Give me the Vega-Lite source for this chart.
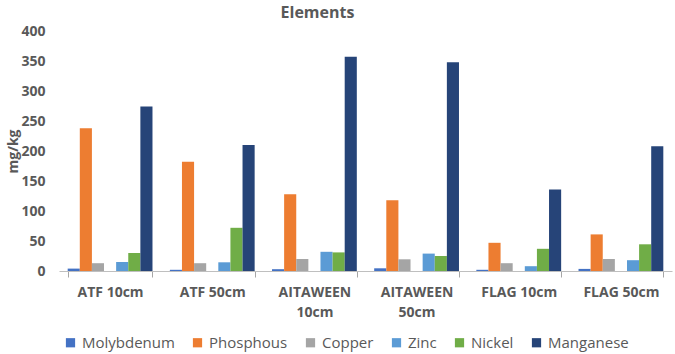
{
  "$schema": "https://vega.github.io/schema/vega-lite/v6.json",
  "width": 613,
  "height": 240,
  "autosize": "none",
  "padding": {"left": 59, "top": 31, "right": 3, "bottom": 83},
  "background": "white",
  "config": {"view": {"stroke": null}, "font": "Open Sans"},
  "title": {"text": "Elements", "fontSize": 16, "fontWeight": "bold", "color": "#595959", "font": "Open Sans", "dx": -48, "offset": 3},
  "datasets": {
    "values": [
    {"group": "ATF 10cm", "element": "Molybdenum", "value": 4},
    {"group": "ATF 10cm", "element": "Phosphous", "value": 238},
    {"group": "ATF 10cm", "element": "Copper", "value": 13},
    {"group": "ATF 10cm", "element": "Zinc", "value": 15},
    {"group": "ATF 10cm", "element": "Nickel", "value": 30},
    {"group": "ATF 10cm", "element": "Manganese", "value": 274},
    {"group": "ATF 50cm", "element": "Molybdenum", "value": 2},
    {"group": "ATF 50cm", "element": "Phosphous", "value": 182},
    {"group": "ATF 50cm", "element": "Copper", "value": 13},
    {"group": "ATF 50cm", "element": "Zinc", "value": 14.5},
    {"group": "ATF 50cm", "element": "Nickel", "value": 72},
    {"group": "ATF 50cm", "element": "Manganese", "value": 210},
    {"group": "AITAWEEN 10cm", "element": "Molybdenum", "value": 3},
    {"group": "AITAWEEN 10cm", "element": "Phosphous", "value": 128},
    {"group": "AITAWEEN 10cm", "element": "Copper", "value": 20},
    {"group": "AITAWEEN 10cm", "element": "Zinc", "value": 32},
    {"group": "AITAWEEN 10cm", "element": "Nickel", "value": 31},
    {"group": "AITAWEEN 10cm", "element": "Manganese", "value": 357},
    {"group": "AITAWEEN 50cm", "element": "Molybdenum", "value": 4.5},
    {"group": "AITAWEEN 50cm", "element": "Phosphous", "value": 118},
    {"group": "AITAWEEN 50cm", "element": "Copper", "value": 19.5},
    {"group": "AITAWEEN 50cm", "element": "Zinc", "value": 29},
    {"group": "AITAWEEN 50cm", "element": "Nickel", "value": 25},
    {"group": "AITAWEEN 50cm", "element": "Manganese", "value": 348},
    {"group": "FLAG 10cm", "element": "Molybdenum", "value": 2},
    {"group": "FLAG 10cm", "element": "Phosphous", "value": 47},
    {"group": "FLAG 10cm", "element": "Copper", "value": 13},
    {"group": "FLAG 10cm", "element": "Zinc", "value": 8},
    {"group": "FLAG 10cm", "element": "Nickel", "value": 37},
    {"group": "FLAG 10cm", "element": "Manganese", "value": 136},
    {"group": "FLAG 50cm", "element": "Molybdenum", "value": 3.5},
    {"group": "FLAG 50cm", "element": "Phosphous", "value": 61},
    {"group": "FLAG 50cm", "element": "Copper", "value": 20},
    {"group": "FLAG 50cm", "element": "Zinc", "value": 18},
    {"group": "FLAG 50cm", "element": "Nickel", "value": 44.5},
    {"group": "FLAG 50cm", "element": "Manganese", "value": 208}
    ],
    "midticks": [
      {"group": "ATF 10cm", "slot": "gap"},
      {"group": "ATF 50cm", "slot": "gap"},
      {"group": "AITAWEEN 10cm", "slot": "gap"},
      {"group": "AITAWEEN 50cm", "slot": "gap"},
      {"group": "FLAG 10cm", "slot": "gap"},
      {"group": "FLAG 50cm", "slot": "gap"}
    ]
  },
  "data": {"name": "values"},
  "encoding": {
    "x": {
      "field": "group", "type": "nominal", "sort": null, "title": null,
      "scale": {"paddingInner": 0.17, "paddingOuter": 0.085},
      "axis": {
        "labelAngle": 0, "labelFontSize": 14, "labelFontWeight": "bold", "labelColor": "#595959",
        "labelFont": "Open Sans", "labelPadding": 8, "labelLineHeight": 20,
        "labelExpr": "indexof(datum.label, 'AITAWEEN') == 0 ? split(datum.label, ' ') : datum.label",
        "tickBand": "extent", "tickSize": 6, "tickColor": "#A6A6A6", "domainColor": "#BFBFBF"
      }
    },
    "y": {
      "field": "value", "type": "quantitative", "title": "mg/kg",
      "scale": {"domain": [0, 400]},
      "axis": {
        "values": [0, 50, 100, 150, 200, 250, 300, 350, 400],
        "labelOverlap": false,
        "grid": false, "domain": false, "ticks": false,
        "labelFontSize": 14, "labelFontWeight": "bold", "labelColor": "#595959", "labelPadding": 14,
        "titleFontSize": 14, "titleFontWeight": "bold", "titleColor": "#595959", "titlePadding": 0
      }
    }
  },
  "layer": [
    {
      "mark": {"type": "bar"},
      "encoding": {
        "xOffset": {
          "field": "element", "type": "nominal",
          "scale": {"domain": ["Molybdenum", "Phosphous", "Copper", "gap", "Zinc", "Nickel", "Manganese"], "paddingInner": 0, "paddingOuter": 0}
        },
        "color": {
          "field": "element", "type": "nominal", "title": null,
          "scale": {
            "domain": ["Molybdenum", "Phosphous", "Copper", "Zinc", "Nickel", "Manganese"],
            "range": ["#4472C4", "#ED7D31", "#A5A5A5", "#5B9BD5", "#70AD47", "#264478"]
          },
          "legend": {
            "orient": "none", "legendX": 4, "legendY": 304, "direction": "horizontal",
            "symbolType": "square", "symbolSize": 85, "symbolStrokeWidth": 0,
            "labelFontSize": 15, "labelColor": "#595959", "labelFont": "Open Sans",
            "columnPadding": 15, "labelOffset": 4
          }
        }
      }
    },
    {
      "data": {"name": "midticks"},
      "mark": {"type": "tick", "orient": "vertical", "color": "#A6A6A6", "thickness": 1, "size": 10, "yOffset": 3},
      "encoding": {
        "xOffset": {"field": "slot", "type": "nominal"},
        "y": {"datum": 0}
      }
    }
  ]
}
